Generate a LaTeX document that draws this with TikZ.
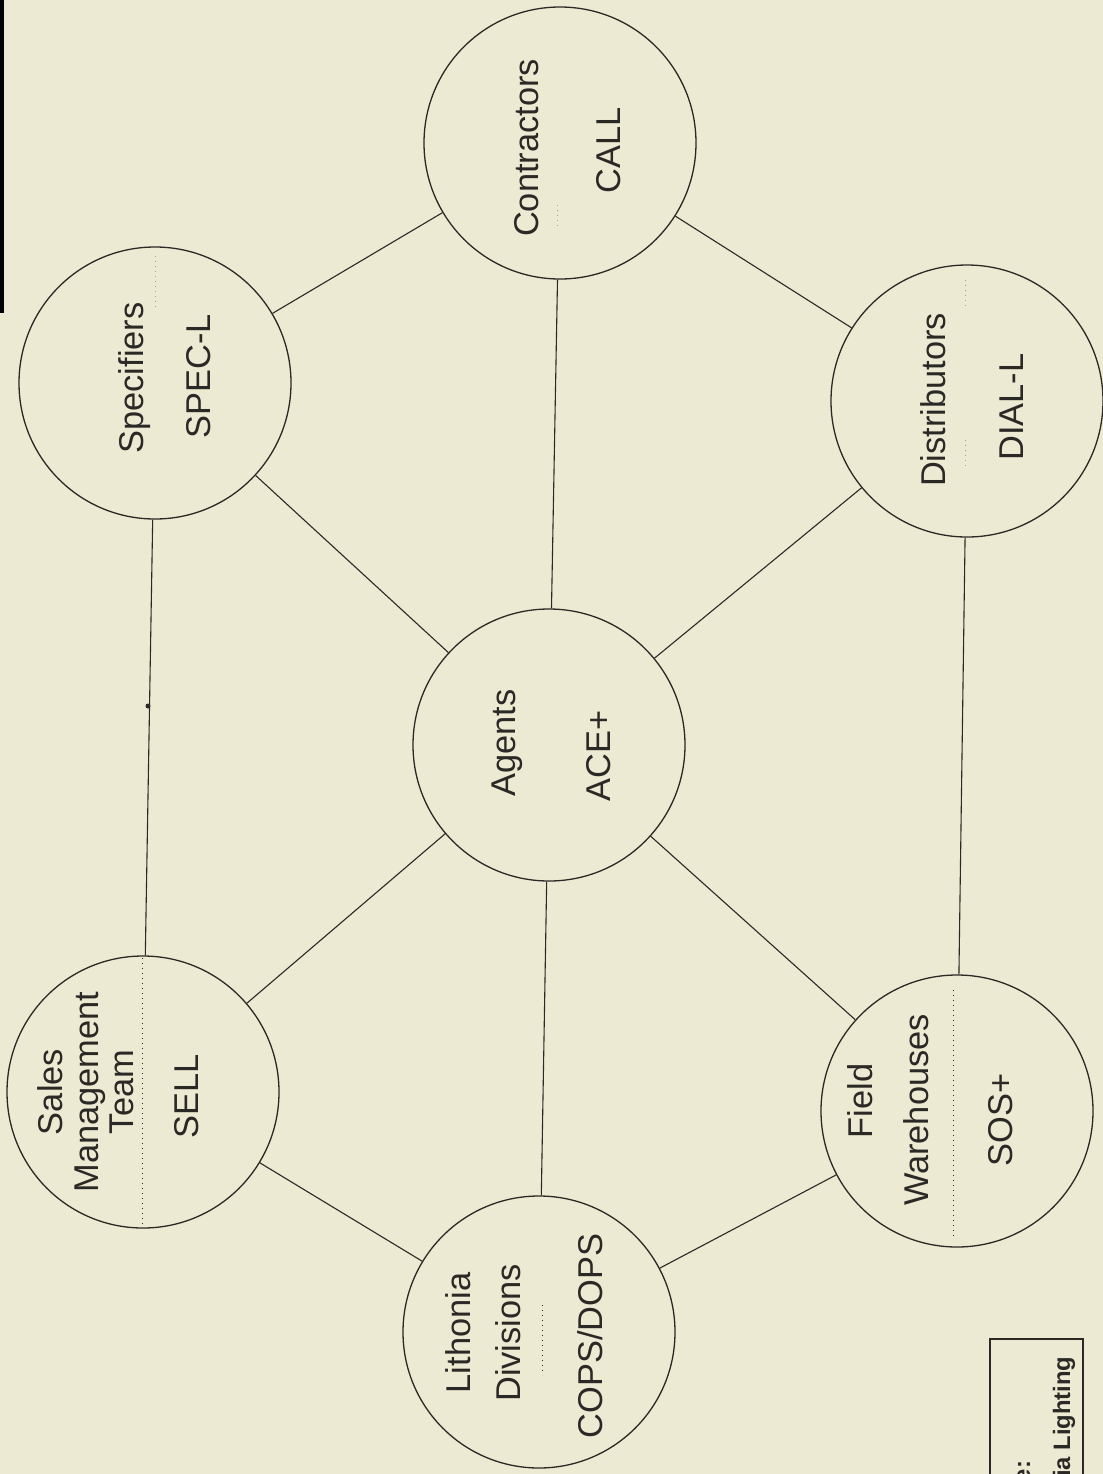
\documentclass[tikz,border=0pt]{standalone}
\usepackage{fontspec}
\setmainfont{Liberation Sans}
\definecolor{paper}{HTML}{EDEAD3}
\definecolor{ink}{HTML}{2B2925}
\begin{document}
\begin{tikzpicture}[x=0.5pt,y=-0.5pt,
  circ/.style={circle,draw=ink,line width=0.65pt,minimum size=136pt,inner sep=0pt},
  link/.style={draw=ink,line width=0.55pt},
  lbl/.style={rotate=90,anchor=base,inner sep=0pt,font=\fontsize{17.2}{18}\selectfont,text=ink},
  src/.style={rotate=90,anchor=base west,inner sep=0pt,font=\fontsize{11.9}{12}\selectfont\bfseries,text=ink},
  divider/.style={draw=ink,dotted,line width=0.5pt},
  faintdiv/.style={draw=ink!45,dotted,line width=0.5pt}]
\fill[paper] (0,0) rectangle (1103,1474);
\clip (0,0) rectangle (1103,1474);
% scan edge strip
\fill[black] (0,0) rectangle (4,313);

% circles
\node[circ] (spec)  at (155,383)  {};
\node[circ] (contr) at (560,143)  {};
\node[circ] (distr) at (967,401)  {};
\node[circ] (agent) at (549,745)  {};
\node[circ] (sales) at (143,1092) {};
\node[circ] (lith)  at (539,1332) {};
\node[circ] (field) at (957,1111) {};

% connectors
\draw[link] (spec) -- (contr);
\draw[link] (spec) -- (sales);
\draw[link] (spec) -- (agent);
\draw[link] (contr) -- (agent);
\draw[link] (contr) -- (distr);
\draw[link] (distr) -- (agent);
\draw[link] (distr) -- (field);
\draw[link] (agent) -- (sales);
\draw[link] (agent) -- (lith);
\draw[link] (agent) -- (field);
\draw[link] (sales) -- (lith);
\draw[link] (lith) -- (field);
\fill[ink] (148,706) circle (2.5);

% dotted dividers
\draw[divider] (142,958) -- (142,1228);
\draw[divider] (953,990) -- (953,1237);
\draw[divider] (542,1305) -- (542,1375);
\draw[faintdiv] (155,256) -- (155,310);
\draw[faintdiv] (965,440) -- (965,467);
\draw[faintdiv] (965,280) -- (965,310);
\draw[faintdiv] (557,205) -- (557,230);

% labels
\node[lbl] (specA) at (143,378) {Specifiers};
\node[lbl] (specB) at (210,376) {SPEC-L};
\node[lbl] (contrA) at (538,148) {Contractors};
\node[lbl] (contrB) at (620,150) {CALL};
\node[lbl] (distrA) at (945,400) {Distributors};
\node[lbl] (distrB) at (1023,407) {DIAL-L};
\node[lbl] (agentA) at (515,743) {Agents};
\node[lbl] (agentB) at (610,756) {ACE+};
\node[lbl] (salesA) at (62,1092) {Sales};
\node[lbl] (salesB) at (98,1092) {Management};
\node[lbl] (salesC) at (133,1092) {Team};
\node[lbl] (salesD) at (198,1096) {SELL};
\node[lbl] (lithA) at (470,1333) {Lithonia};
\node[lbl] (lithB) at (520,1333) {Divisions};
\node[lbl] (lithC) at (602,1336) {COPS/DOPS};
\node[lbl] (fieldA) at (872,1101) {Field};
\node[lbl] (fieldB) at (928,1110) {Warehouses};
\node[lbl] (fieldC) at (1012,1120) {SOS+};

% source box
\draw[link] (990,1500) -- (990,1339) -- (1083,1339) -- (1083,1500);
\node[src] (srcA) at (1030,1550) {Source:};
\node[src] (srcB) at (1070,1550) {Lithonia Lighting};
\end{tikzpicture}
\end{document}
